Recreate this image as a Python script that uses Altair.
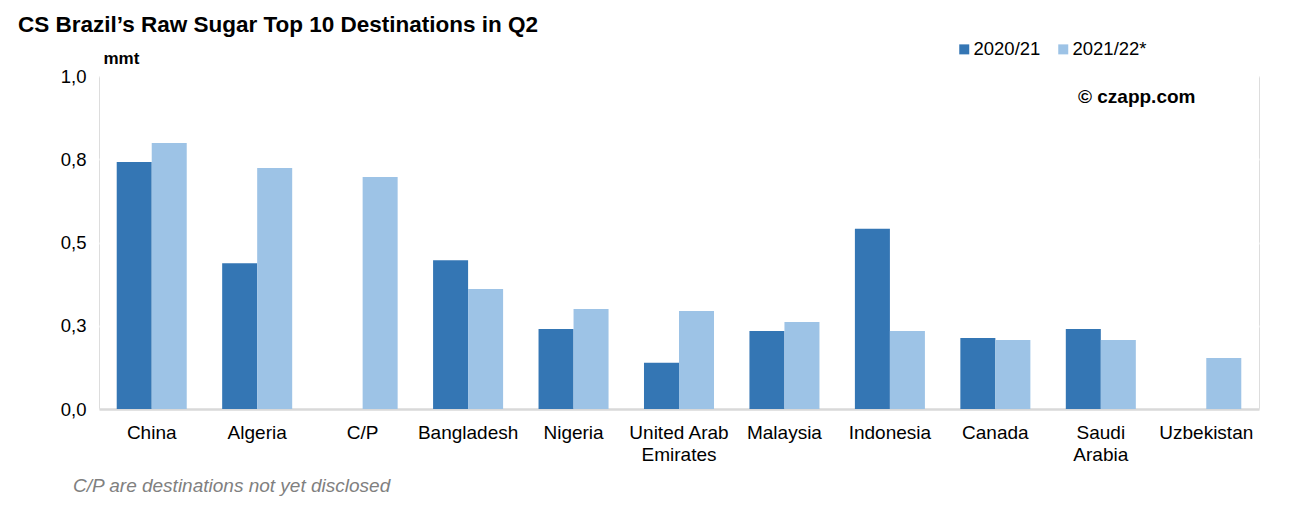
import altair as alt
import pandas as pd

countries = ["China", "Algeria", "C/P", "Bangladesh", "Nigeria", "United Arab Emirates",
             "Malaysia", "Indonesia", "Canada", "Saudi Arabia", "Uzbekistan"]
v_2020_21 = [0.742, 0.438, None, 0.447, 0.240, 0.139, 0.234, 0.541, 0.213, 0.240, None]
v_2021_22 = [0.799, 0.724, 0.697, 0.360, 0.300, 0.294, 0.261, 0.234, 0.207, 0.207, 0.153]
seasons = ["2020/21", "2021/22*"]
colors = ["#3476B4", "#9DC3E6"]

rows = []
for c, a, b in zip(countries, v_2020_21, v_2021_22):
    if a is not None:
        rows.append({"Country": c, "Season": seasons[0], "Value": a})
    if b is not None:
        rows.append({"Country": c, "Season": seasons[1], "Value": b})
df = pd.DataFrame(rows)

FONT = "Liberation Sans"

bars = alt.Chart(df).mark_bar().encode(
    x=alt.X("Country:N", sort=countries,
            scale=alt.Scale(paddingInner=0.336, paddingOuter=0.168),
            axis=alt.Axis(title=None, labelAngle=0, ticks=False, grid=False,
                          domainColor="#d9d9d9", domainWidth=2.5,
                          labelFont=FONT, labelFontSize=19, labelColor="#000000",
                          labelPadding=14, labelLineHeight=22,
                          labelExpr="datum.value == 'United Arab Emirates' ? ['United Arab', 'Emirates'] : datum.value == 'Saudi Arabia' ? ['Saudi', 'Arabia'] : datum.value")),
    xOffset=alt.XOffset("Season:N", sort=seasons),
    y=alt.Y("Value:Q", scale=alt.Scale(domain=[0, 1]),
            axis=alt.Axis(values=[0, 0.25, 0.5, 0.75, 1.0], ticks=False, domain=False,
                          grid=True, gridColor="#ffffff", gridWidth=2,
                          labelFont=FONT, labelFontSize=18.5, labelColor="#000000",
                          labelPadding=13,
                          labelExpr="replace(format(datum.value, '.1f'), '.', ',')",
                          title="mmt", titleAngle=0, titleX=4, titleY=-18,
                          titleAlign="left", titleBaseline="middle",
                          titleFont=FONT, titleFontSize=17, titleFontWeight="bold",
                          titleColor="#000000")),
    color=alt.Color("Season:N", sort=seasons,
                    scale=alt.Scale(domain=seasons, range=colors),
                    legend=alt.Legend(title=None, orient="none", direction="horizontal",
                                      legendX=856, legendY=-36,
                                      symbolType="square", symbolSize=100,
                                      symbolStrokeWidth=0, labelOffset=0,
                                      columnPadding=13, padding=0,
                                      labelFont=FONT, labelFontSize=18.5,
                                      labelColor="#000000")),
)

copyright_df = pd.DataFrame({"t": ["© czapp.com"]})
copyright_txt = alt.Chart(copyright_df).mark_text(
    font=FONT, fontSize=19, fontWeight="bold", align="left", baseline="middle",
    color="#000000"
).encode(x=alt.value(979), y=alt.value(21), text="t:N")

note_df = pd.DataFrame({"t": ["C/P are destinations not yet disclosed"]})
note_txt = alt.Chart(note_df).mark_text(
    font=FONT, fontSize=19, fontStyle="italic", align="left", baseline="middle",
    color="#808080"
).encode(x=alt.value(-26), y=alt.value(410), text="t:N")

chart = alt.layer(bars, copyright_txt, note_txt).properties(
    width=1160, height=333,
    autosize=alt.AutoSizeParams(type="none"),
    padding={"left": 91, "top": 68, "right": 30, "bottom": 90},
    title=alt.Title("CS Brazil’s Raw Sugar Top 10 Destinations in Q2", anchor="start",
                    frame="group", dx=-81, offset=4, font=FONT, fontSize=22.5,
                    fontWeight="bold", color="#000000"),
).configure_view(fill="#f2f2f2", stroke=None).configure(background="#ffffff")

chart.save("out.html", embed_options={"renderer": "svg", "actions": False})
